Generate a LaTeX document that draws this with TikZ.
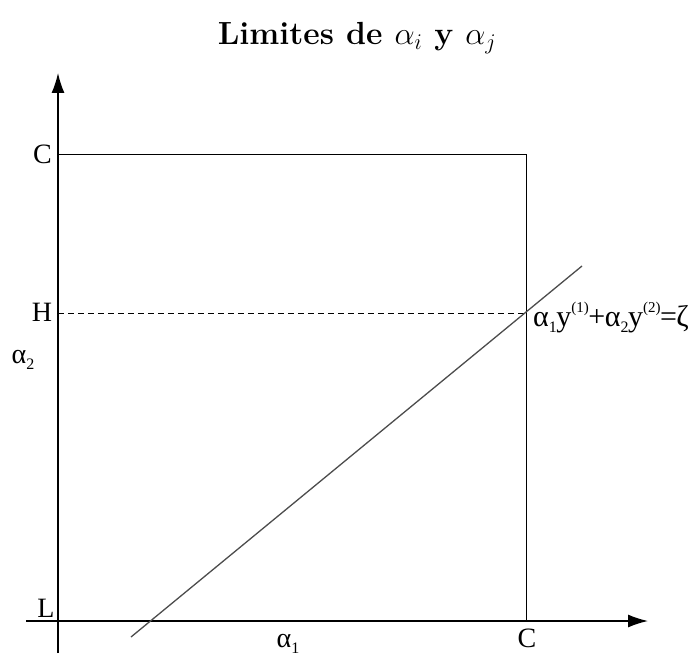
\RequirePackage{fix-cm}
\documentclass[tikz,border=0pt]{standalone}
\usepackage{fontspec}
\usetikzlibrary{arrows.meta}
\newfontfamily\labfont{Liberation Serif}
\newcommand\mysub[1]{\raisebox{-0.22em}{\fontsize{16}{16}\selectfont #1}}
\newcommand\eqsub[1]{\raisebox{-0.2em}{\fontsize{16}{16}\selectfont #1}}
\newcommand\eqsup[1]{\raisebox{0.45em}{\fontsize{15}{15}\selectfont #1}}
\tikzset{
  axis/.style={line width=1.5pt,-{Latex[length=20pt,width=13pt]}},
  plain/.style={line width=1pt},
  guide/.style={line width=1pt,dash pattern=on 6pt off 4pt},
  diag/.style={line width=1.3pt,draw=black!70},
  lab/.style={inner sep=0pt,font=\labfont\fontsize{28}{28}\selectfont},
  eqlab/.style={inner sep=0pt,font=\labfont\fontsize{30}{30}\selectfont},
}
\begin{document}
\begin{tikzpicture}[x=1pt,y=-1pt]
\useasboundingbox (0,0) rectangle (693,658);
% coordinates
\coordinate (Ybot) at (58,653);
\coordinate (Ytip) at (58,73);
\coordinate (Xleft) at (26,621);
\coordinate (Xtip) at (648,621);
\coordinate (CTL) at (58,154);
\coordinate (CTR) at (526,154);
\coordinate (CBR) at (526,621);
\coordinate (HL) at (58,313);
\coordinate (HR) at (526,313);
\coordinate (D1) at (131,637);
\coordinate (D2) at (582,266);
% title
\node[inner sep=0pt,font=\bfseries\fontsize{32}{38}\selectfont] (title) at (357,38) {Limites de $\alpha_i$ y $\alpha_j$};
% axes
\draw[axis] (Ybot) -- (Ytip);
\draw[axis] (Xleft) -- (Xtip);
% box
\draw[plain] (CTL) -- (CTR) -- (CBR);
% dashed H
\draw[guide] (HL) -- (HR);
% diagonal
\draw[diag] (D1) -- (D2);
% labels
\node[lab] (cy) at (42.5,154) {C};
\node[lab] (h) at (42,312) {H};
\node[lab] (a2) at (23,360) {α\mysub{2}};
\node[lab] (l) at (46,608) {L};
\node[lab] (cx) at (527,638) {C};
\node[lab] (a1) at (288,644) {α\mysub{1}};
\node[eqlab,anchor=base west] (eq) at (533,326) {α\eqsub{1}\kern-0.5pt y\eqsup{(1)}\kern-0.5pt+\kern-0.5pt α\eqsub{2}\kern-0.5pt y\eqsup{(2)}\kern-0.5pt=\kern-0.5pt ζ};
\end{tikzpicture}
\end{document}
